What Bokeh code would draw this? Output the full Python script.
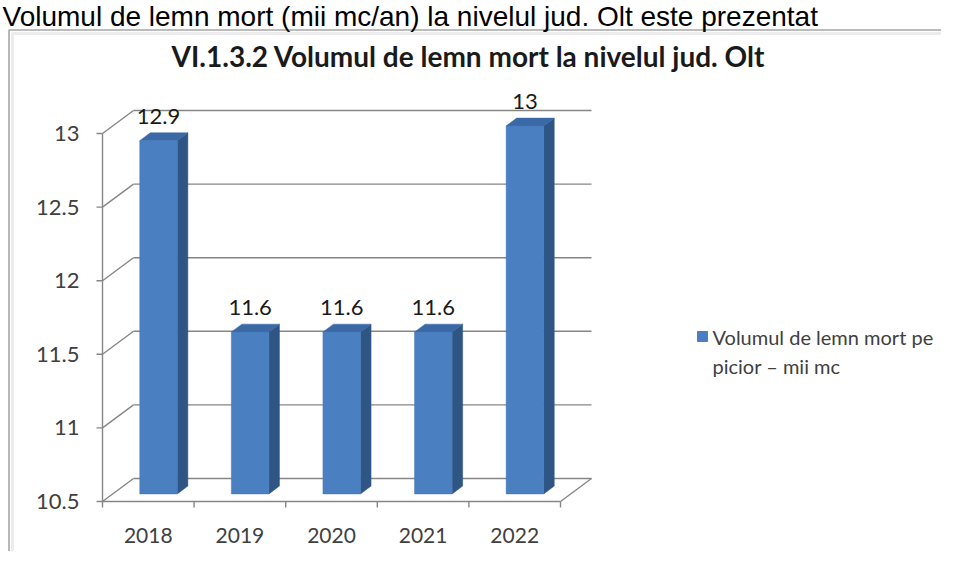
from bokeh.plotting import figure
from bokeh.models import Range1d
from bokeh.core.properties import value
from bokeh.embed import file_html
from bokeh.resources import INLINE

# ---------------- data ----------------
years = ["2018", "2019", "2020", "2021", "2022"]
volumes = [12.9, 11.6, 11.6, 11.6, 13.0]
value_labels = ["12.9", "11.6", "11.6", "11.6", "13"]
y_ticks = [10.5, 11.0, 11.5, 12.0, 12.5, 13.0]
y_tick_labels = ["10.5", "11", "11.5", "12", "12.5", "13"]
series_name_lines = ["Volumul de lemn mort pe", "picior – mii mc"]
chart_title = "VI.1.3.2 Volumul de lemn mort la nivelul jud. Olt"
page_text = "Volumul de lemn mort (mii mc/an) la nivelul jud. Olt este prezentat"

# ---------------- layout (canvas pixels) ----------------
W, H = 941, 551
AX_X = 102.0       # canvas x of the front value axis
CAT_PX = 91.6      # px per category along the front floor edge
BASE_Y = 501.0     # canvas y of the axis minimum on the front plane
UNIT_PX = 147.2    # px per value unit
Y_MIN, Y_MAX = y_ticks[0], y_ticks[-1]
DEPTH_DX = 31.0 / CAT_PX     # depth offset (x units)
DEPTH_DY = 23.0 / UNIT_PX    # depth offset (y units)
F1, F2 = 0.33, 0.67          # bar front/back depth fractions
BAR_W = 0.41


def xd(px):
    return (px - AX_X) / CAT_PX


def yd(py):
    return Y_MIN + (BASE_Y - py) / UNIT_PX


p = figure(width=W, height=H,
           x_range=Range1d(xd(0), xd(W)), y_range=Range1d(yd(H), yd(0)),
           output_backend="svg", toolbar_location=None, min_border=0,
           x_axis_location=None, y_axis_location=None,
           background_fill_color="white", border_fill_color="white",
           outline_line_color=None)
p.grid.visible = False

GRID = "#868686"
FONT = value("Lato")
n = len(years)
dx, dy = DEPTH_DX, DEPTH_DY

# outer chart frame (with faint inner shadow)
p.line(x=[xd(12), xd(12), xd(W + 5)], y=[yd(H + 5), yd(33), yd(33)],
       line_color="#ececec", line_width=3)
p.line(x=[xd(8.5), xd(8.5), xd(W + 5)], y=[yd(H + 5), yd(29.5), yd(29.5)],
       line_color="#a6a6a6", line_width=1.6)

# document text above the chart
p.text(x=[xd(2)], y=[yd(0)], text=[page_text], text_font=value("Liberation Sans"),
       text_font_size="28px", text_color="black", text_baseline="top",
       text_align="left")

# side wall (diagonals) and back wall gridlines
p.segment(x0=[0] * len(y_ticks), y0=y_ticks, x1=[dx] * len(y_ticks),
          y1=[t + dy for t in y_ticks], line_color=GRID, line_width=1.4)
p.segment(x0=[dx] * len(y_ticks), y0=[t + dy for t in y_ticks],
          x1=[n + dx] * len(y_ticks), y1=[t + dy for t in y_ticks],
          line_color=GRID, line_width=1.4)
# floor front & right edges
p.segment(x0=[0, n], y0=[Y_MIN, Y_MIN], x1=[n, n + dx], y1=[Y_MIN, Y_MIN + dy],
          line_color=GRID, line_width=1.4)
# front value axis
p.segment(x0=[0], y0=[Y_MIN], x1=[0], y1=[Y_MAX], line_color=GRID, line_width=1.4)
# value axis ticks
p.segment(x0=[xd(AX_X - 6)] * len(y_ticks), y0=y_ticks, x1=[0] * len(y_ticks),
          y1=y_ticks, line_color=GRID, line_width=1.4)
# category axis ticks
p.segment(x0=list(range(n + 1)), y0=[Y_MIN] * (n + 1), x1=list(range(n + 1)),
          y1=[yd(BASE_Y + 6)] * (n + 1), line_color=GRID, line_width=1.4)

# value axis labels
p.text(x=[xd(AX_X - 23)] * len(y_ticks), y=y_ticks, text=y_tick_labels,
       text_font=FONT, text_font_size="22px", text_color="#404040",
       text_align="right", text_baseline="middle")
# category labels
p.text(x=[i + 0.5 for i in range(n)], y=[yd(BASE_Y + 34)] * n, text=years,
       text_font=FONT, text_font_size="21px", text_color="#404040",
       text_align="center", text_baseline="middle")

# 3D bars
centers = [i + 0.5 for i in range(n)]
front_l = [c - BAR_W / 2 + F1 * dx for c in centers]
front_r = [c + BAR_W / 2 + F1 * dx for c in centers]
back_l = [c - BAR_W / 2 + F2 * dx for c in centers]
back_r = [c + BAR_W / 2 + F2 * dx for c in centers]
b1 = Y_MIN + F1 * dy
b2 = Y_MIN + F2 * dy

side_xs = [[fr, br, br, fr] for fr, br in zip(front_r, back_r)]
side_ys = [[b1, b2, v + F2 * dy, v + F1 * dy] for v in volumes]
p.patches(xs=side_xs, ys=side_ys, fill_color="#2f5585", line_color="#2f5585",
          line_width=0.5)
top_xs = [[fl, fr, br, bl] for fl, fr, br, bl in zip(front_l, front_r, back_r, back_l)]
top_ys = [[v + F1 * dy, v + F1 * dy, v + F2 * dy, v + F2 * dy] for v in volumes]
p.patches(xs=top_xs, ys=top_ys, fill_color="#3a69a6", line_color="#3a69a6",
          line_width=0.5)
p.quad(left=front_l, right=front_r, bottom=[b1] * n,
       top=[v + F1 * dy for v in volumes], fill_color="#4a7fc1",
       line_color="#4578b8", line_width=0.5)

# value labels
p.text(x=[c + F1 * dx for c in centers], y=[v + F2 * dy + 0.11 for v in volumes],
       text=value_labels, text_font=FONT, text_font_size="22px",
       text_color="#1a1a1a", text_align="center", text_baseline="middle")

# title
p.text(x=[xd(468)], y=[yd(55)], text=[chart_title], text_font=FONT,
       text_font_size="28px", text_font_style="bold", text_color="#1a1a1a",
       text_align="center", text_baseline="middle")

# legend
p.quad(left=[xd(697)], right=[xd(707)], top=[yd(331)], bottom=[yd(341)],
       fill_color="#4a7fc1", line_color="#4a7fc1")
p.text(x=[xd(712)] * 2, y=[yd(336), yd(365)], text=series_name_lines,
       text_font=FONT, text_font_size="20px", text_color="#404040",
       text_align="left", text_baseline="middle")

open("out.html", "w").write(file_html(p, INLINE))
